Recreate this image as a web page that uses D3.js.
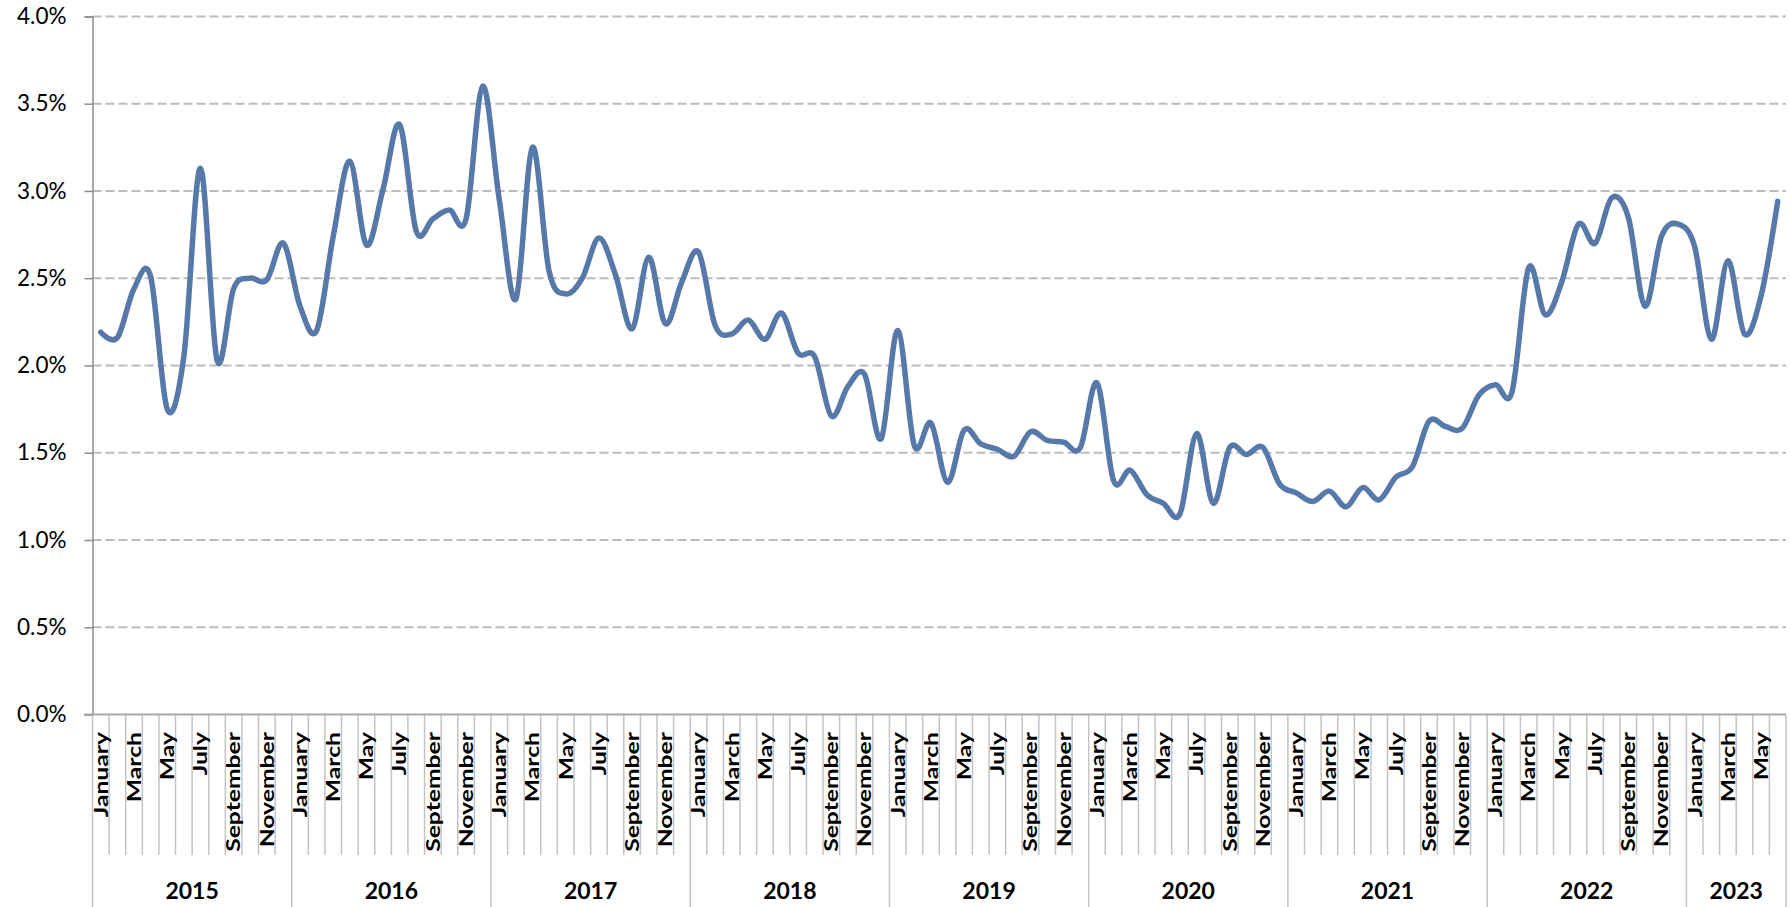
<!DOCTYPE html>
<html>
<head>
<meta charset="utf-8">
<script src="https://cdn.jsdelivr.net/npm/d3@7"></script>
<style>
  body { margin: 0; background: #fff; }
  svg { display: block; font-family: Lato, "Open Sans", sans-serif; }
</style>
</head>
<body>
<svg id="chart" width="1790" height="907"></svg>
<script>
// monthly values, percent
var years = ["2015", "2016", "2017", "2018", "2019", "2020", "2021", "2022", "2023"];
var monthNames = ["January", "February", "March", "April", "May", "June", "July",
    "August", "September", "October", "November", "December"];
var v2015 = [2.19, 2.16, 2.44, 2.51, 1.75, 2.05, 3.13, 2.03, 2.44, 2.50, 2.49, 2.70];
var v2016 = [2.34, 2.20, 2.74, 3.17, 2.69, 3.01, 3.38, 2.77, 2.84, 2.89, 2.84, 3.60];
var v2017 = [2.95, 2.38, 3.25, 2.54, 2.41, 2.50, 2.73, 2.52, 2.21, 2.62, 2.24, 2.48];
var v2018 = [2.65, 2.23, 2.18, 2.26, 2.15, 2.30, 2.07, 2.05, 1.71, 1.88, 1.95, 1.58];
var v2019 = [2.20, 1.54, 1.67, 1.33, 1.63, 1.55, 1.52, 1.48, 1.62, 1.57, 1.56, 1.53];
var v2020 = [1.90, 1.34, 1.40, 1.26, 1.21, 1.15, 1.61, 1.21, 1.53, 1.49, 1.53, 1.32];
var v2021 = [1.27, 1.22, 1.28, 1.19, 1.30, 1.23, 1.36, 1.42, 1.68, 1.65, 1.64, 1.83];
var v2022 = [1.89, 1.85, 2.56, 2.29, 2.48, 2.81, 2.70, 2.96, 2.85, 2.34, 2.74, 2.81];
var v2023 = [2.68, 2.15, 2.60, 2.18, 2.40, 2.94];
var yTicks = [0, 0.5, 1, 1.5, 2, 2.5, 3, 3.5, 4];

var byYear = [v2015, v2016, v2017, v2018, v2019, v2020, v2021, v2022, v2023];

// flatten into rows
var rows = [];
byYear.forEach(function (vals, yi) {
    vals.forEach(function (v, mi) {
        rows.push({ i: rows.length, year: years[yi], month: monthNames[mi], m: mi, value: v });
    });
});

// plot box (window.top is taken, so prefix these)
var plotLeft = 92.5, plotRight = 1786, plotTop = 16.4, plotBottom = 714.5;
var svg = d3.select("#chart");

var x = d3.scaleBand()
    .domain(rows.map(function (d) { return d.i; }))
    .range([plotLeft, plotRight])
    .padding(0);
var y = d3.scaleLinear().domain([0, 4]).range([plotBottom, plotTop]);

// gridlines
svg.append("g")
    .selectAll("line")
    .data(yTicks.filter(function (t) { return t > 0; }))
    .enter().append("line")
    .attr("x1", plotLeft).attr("x2", plotRight)
    .attr("y1", function (d) { return y(d); })
    .attr("y2", function (d) { return y(d); })
    .attr("stroke", "#bcbcbc")
    .attr("stroke-width", 2)
    .attr("stroke-dasharray", "9,4");

// y axis
var yAxis = svg.append("g")
    .attr("transform", "translate(" + plotLeft + ",0)")
    .call(d3.axisLeft(y).tickValues(yTicks).tickSize(8).tickPadding(18)
        .tickFormat(function (d) { return d.toFixed(1) + "%"; }));
yAxis.select(".domain").attr("stroke", "#8c8c8c").attr("stroke-width", 1.5);
yAxis.selectAll(".tick line").attr("stroke", "#8c8c8c").attr("stroke-width", 1.5);
yAxis.selectAll(".tick text")
    .attr("font-family", "Lato, sans-serif")
    .attr("font-size", 22.5)
    .attr("fill", "#000");

// category ticks below axis
var bounds = d3.range(rows.length + 1);
var bx = function (k) { return k < rows.length ? x(k) : plotRight; };
svg.append("g")
    .selectAll("line")
    .data(bounds)
    .enter().append("line")
    .attr("x1", bx).attr("x2", bx)
    .attr("y1", plotBottom)
    .attr("y2", function (k) {
        return (k % 12 === 0 || k === rows.length) ? 907 : 855;
    })
    .attr("stroke", "#c4c4c4")
    .attr("stroke-width", 1.5);

// x axis line
svg.append("line")
    .attr("x1", plotLeft - 8).attr("x2", plotRight)
    .attr("y1", plotBottom).attr("y2", plotBottom)
    .attr("stroke", "#a8a8a8")
    .attr("stroke-width", 2);

// month labels (every other month)
svg.append("g")
    .selectAll("text")
    .data(rows.filter(function (d) { return d.m % 2 === 0; }))
    .enter().append("text")
    .attr("transform", function (d) {
        return "translate(" + (x(d.i) + x.bandwidth() / 2) + ",732) rotate(-90) scale(1.3,1)";
    })
    .attr("text-anchor", "end")
    .attr("dy", "0.36em")
    .attr("font-size", 19)
    .attr("font-weight", "bold")
    .attr("fill", "#000")
    .text(function (d) { return d.month; });

// year labels
svg.append("g")
    .selectAll("text")
    .data(years)
    .enter().append("text")
    .attr("x", function (yr, yi) {
        var first = yi * 12;
        var last = Math.min(first + 12, rows.length);
        return (bx(first) + bx(last)) / 2;
    })
    .attr("y", 899)
    .attr("text-anchor", "middle")
    .attr("font-size", 23)
    .attr("font-weight", "bold")
    .attr("fill", "#000")
    .text(function (d) { return d; });

// the series
var line = d3.line()
    .x(function (d) { return x(d.i) + x.bandwidth() / 2; })
    .y(function (d) { return y(d.value); })
    .curve(d3.curveCardinal.tension(0));

svg.append("path")
    .datum(rows)
    .attr("d", line)
    .attr("fill", "none")
    .attr("stroke", "#5679aa")
    .attr("stroke-width", 5.5)
    .attr("stroke-linejoin", "round")
    .attr("stroke-linecap", "round");
</script>
</body>
</html>
